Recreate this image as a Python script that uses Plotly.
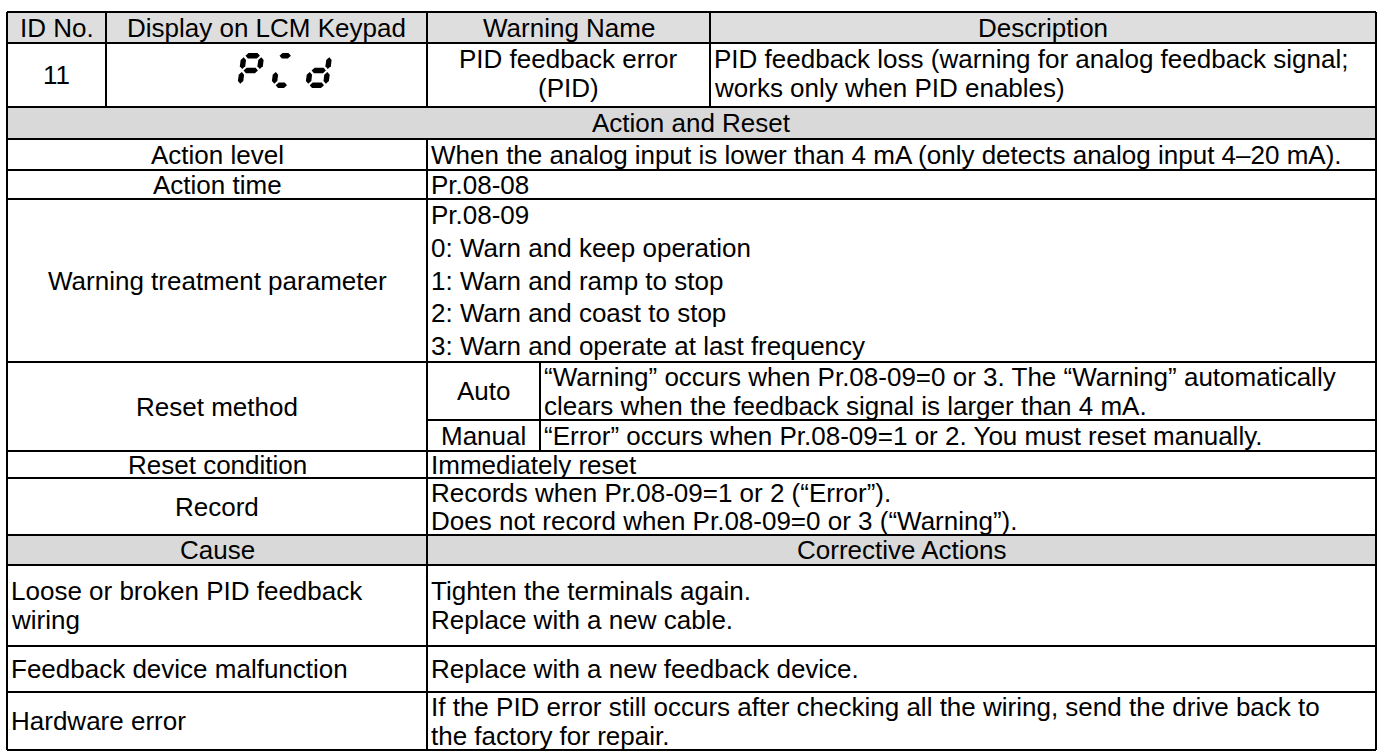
import plotly.graph_objects as go

W, H = 1387, 753

# ---------------- table content ----------------
header_labels = ["ID No.", "Display on LCM Keypad", "Warning Name", "Description"]
warning_id = "11"
warning_name = ["PID feedback error", "(PID)"]
description = ["PID feedback loss (warning for analog feedback signal;",
               "works only when PID enables)"]
section_action = "Action and Reset"
action_labels = ["Action level", "Action time", "Warning treatment parameter",
                 "Reset method", "Reset condition", "Record"]
action_level = ["When the analog input is lower than 4 mA (only detects analog input 4\u201320 mA)."]
action_time = ["Pr.08-08"]
treatment = ["Pr.08-09", "0: Warn and keep operation", "1: Warn and ramp to stop",
             "2: Warn and coast to stop", "3: Warn and operate at last frequency"]
reset_modes = ["Auto", "Manual"]
reset_auto = ["\u201cWarning\u201d occurs when Pr.08-09=0 or 3. The \u201cWarning\u201d automatically",
              "clears when the feedback signal is larger than 4 mA."]
reset_manual = ["\u201cError\u201d occurs when Pr.08-09=1 or 2. You must reset manually."]
reset_condition = ["Immediately reset"]
record = ["Records when Pr.08-09=1 or 2 (\u201cError\u201d).",
          "Does not record when Pr.08-09=0 or 3 (\u201cWarning\u201d)."]
cause_header = ["Cause", "Corrective Actions"]
causes = [["Loose or broken PID feedback", "wiring"],
          ["Feedback device malfunction"],
          ["Hardware error"]]
actions = [["Tighten the terminals again.", "Replace with a new cable."],
           ["Replace with a new feedback device."],
           ["If the PID error still occurs after checking all the wiring, send the drive back to",
            "the factory for repair."]]
# keypad characters as 7-segment lists
keypad_segments = [["a", "b", "f", "g", "e"], ["a", "e", "d"], ["b", "c", "d", "e", "g"]]

# ---------------- layout geometry ----------------
XL, XR = 7, 1376
X_ID, X_DISP, X_NAME = 106, 427, 710
X_SUB = 540
Y = dict(top=12, hdr=43, r1=107, ar=139, lvl=170, time=199, wtp=362, auto=420,
         reset=451, rcond=478, rec=535, cause=565, loose=646, fb=692, hw=750)
FONT = "Liberation Sans, Arial, sans-serif"
FS = 26
LH = 29
GRAY = "#D9D9D9"
LW = 2

shapes = []
annotations = []


def rect(x0, y0, x1, y1, fill):
    shapes.append(dict(type="rect", x0=x0, y0=y0, x1=x1, y1=y1, xref="x", yref="y",
                       fillcolor=fill, line=dict(width=0), layer="below"))


def hline(y, x0=XL, x1=XR):
    shapes.append(dict(type="line", x0=x0, x1=x1, y0=y, y1=y, xref="x", yref="y",
                       line=dict(color="black", width=LW)))


def vline(x, y0, y1):
    shapes.append(dict(type="line", x0=x, x1=x, y0=y0, y1=y1, xref="x", yref="y",
                       line=dict(color="black", width=LW)))


def cell(lines, x0, x1, y0, y1, align="center", valign="middle", lh=LH, pad=2, top_pad=16,
         spread=False):
    n = len(lines)
    if spread:
        ys = [y0 + (i + 0.5) * (y1 - y0) / n for i in range(n)]
    elif valign == "top":
        ys = [y0 + top_pad + i * lh for i in range(n)]
    else:
        c = (y0 + y1) / 2
        ys = [c - (n - 1) * lh / 2 + i * lh for i in range(n)]
    for t, yy in zip(lines, ys):
        if align == "center":
            xx, xa = (x0 + x1) / 2, "center"
        else:
            xx, xa = x0 + pad, "left"
        annotations.append(dict(x=xx, y=yy, xref="x", yref="y", text=t, showarrow=False,
                                xanchor=xa, yanchor="middle",
                                font=dict(family=FONT, size=FS, color="black")))


# gray bands
rect(XL, Y["top"], XR, Y["hdr"], "#DEDEDE")
rect(XL, Y["r1"], XR, Y["ar"], GRAY)
rect(XL, Y["rec"], XR, Y["cause"], GRAY)

# horizontal lines
for k in ["top", "hdr", "r1", "ar", "lvl", "time", "wtp", "reset", "rcond", "rec", "cause",
          "loose", "fb", "hw"]:
    hline(Y[k])
hline(Y["auto"], X_DISP, XR)

# vertical lines
vline(XL, Y["top"], Y["hw"])
vline(XR, Y["top"], Y["hw"])
for x in [X_ID, X_DISP, X_NAME]:
    vline(x, Y["top"], Y["r1"])
vline(X_DISP, Y["ar"], Y["hw"])
vline(X_SUB, Y["wtp"], Y["reset"])

# header
cols = [XL, X_ID, X_DISP, X_NAME, XR]
for i, lab in enumerate(header_labels):
    cell([lab], cols[i], cols[i + 1], Y["top"], Y["hdr"])

# row 1
cell([warning_id], XL, X_ID, Y["hdr"], Y["r1"])
cell(warning_name, X_DISP, X_NAME, Y["hdr"], Y["r1"], valign="top")
cell(description, X_NAME, XR, Y["hdr"], Y["r1"], align="left", valign="top")

# action and reset band
cell([section_action], XL, XR, Y["r1"], Y["ar"])

row_keys = [("ar", "lvl"), ("lvl", "time"), ("time", "wtp"), ("wtp", "reset"),
            ("reset", "rcond"), ("rcond", "rec")]
for lab, (a, b) in zip(action_labels, row_keys):
    cell([lab], XL, X_DISP, Y[a], Y[b])

cell(action_level, X_DISP, XR, Y["ar"], Y["lvl"], align="left")
cell(action_time, X_DISP, XR, Y["lvl"], Y["time"], align="left")
cell(treatment, X_DISP, XR, Y["time"], Y["wtp"], align="left", spread=True)
cell([reset_modes[0]], X_DISP, X_SUB, Y["wtp"], Y["auto"])
cell([reset_modes[1]], X_DISP, X_SUB, Y["auto"], Y["reset"])
cell(reset_auto, X_SUB, XR, Y["wtp"], Y["auto"], align="left")
cell(reset_manual, X_SUB, XR, Y["auto"], Y["reset"], align="left")
cell(reset_condition, X_DISP, XR, Y["reset"], Y["rcond"], align="left")
cell(record, X_DISP, XR, Y["rcond"], Y["rec"], align="left", lh=28)

# cause band
cell([cause_header[0]], XL, X_DISP, Y["rec"], Y["cause"])
cell([cause_header[1]], X_DISP, XR, Y["rec"], Y["cause"])

ckeys = [("cause", "loose"), ("loose", "fb"), ("fb", "hw")]
for c, a, (k0, k1) in zip(causes, actions, ckeys):
    cell(c, XL, X_DISP, Y[k0], Y[k1], align="left")
    cell(a, X_DISP, XR, Y[k0], Y[k1], align="left")


# ---------------- 7-segment keypad glyph ----------------
def seg_poly(seg, w, h, t):
    g = t * 0.3
    hm = h / 2

    def horiz(vc):
        u0, u1 = g + t / 2, w - g - t / 2
        return [(u0, vc), (u0 + t / 2, vc - t / 2), (u1 - t / 2, vc - t / 2), (u1, vc),
                (u1 - t / 2, vc + t / 2), (u0 + t / 2, vc + t / 2)]

    def vert(uc, v0, v1):
        return [(uc, v0), (uc + t / 2, v0 + t / 2), (uc + t / 2, v1 - t / 2), (uc, v1),
                (uc - t / 2, v1 - t / 2), (uc - t / 2, v0 + t / 2)]

    if seg == "a":
        return horiz(t / 2)
    if seg == "g":
        return horiz(hm)
    if seg == "d":
        return horiz(h - t / 2)
    if seg == "f":
        return vert(t / 2, t / 2 + g, hm - g)
    if seg == "e":
        return vert(t / 2, hm + g, h - t / 2 - g)
    if seg == "b":
        return vert(w - t / 2, t / 2 + g, hm - g)
    if seg == "c":
        return vert(w - t / 2, hm + g, h - t / 2 - g)


char_x = [237, 271, 305]
char_w = [23, 20, 23]
gy0, gh, gt, slant = 53, 35, 5.4, 0.13
for segs, x0, w in zip(keypad_segments, char_x, char_w):
    for s in segs:
        pts = seg_poly(s, w, gh, gt)
        path = "M " + " L ".join(f"{x0 + u + slant * (gh - v):.2f},{gy0 + v:.2f}" for u, v in pts) + " Z"
        shapes.append(dict(type="path", path=path, xref="x", yref="y",
                           fillcolor="black", line=dict(width=0)))

fig = go.Figure()
fig.update_layout(
    width=W, height=H,
    margin=dict(l=0, r=0, t=0, b=0),
    paper_bgcolor="white", plot_bgcolor="white",
    xaxis=dict(range=[0, W], visible=False, fixedrange=True),
    yaxis=dict(range=[H, 0], visible=False, fixedrange=True),
    shapes=shapes, annotations=annotations, showlegend=False,
)
fig.write_html("out.html", config={"displayModeBar": False},
               post_script="document.body.style.margin='0';document.body.style.overflow='hidden';")
